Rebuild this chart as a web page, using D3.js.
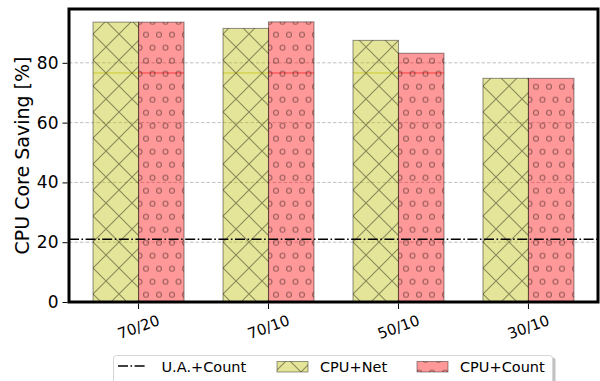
<!DOCTYPE html>
<html>
<head>
<meta charset="utf-8">
<script src="https://cdn.jsdelivr.net/npm/d3@7"></script>
<style>
  body { margin: 0; background: #fff; }
  svg { display: block; font-family: "DejaVu Sans", sans-serif; }
</style>
</head>
<body>
<div id="chart"></div>
<script>
// Data
const categories = ["70/20", "70/10", "50/10", "30/10"];
const cpuNet = [93.6, 91.5, 87.5, 74.8];
const cpuCount = [93.6, 93.7, 83.2, 74.8];
const innerMark = [76.6, 76.6, 76.6, 76.6]; // faint line visible inside the bars
const uaCount = 21;
const yTicks = [0, 20, 40, 60, 80];
const legendLabels = ["U.A.+Count", "CPU+Net", "CPU+Count"];

// Dimensions
const W = 600, H = 381;
const plot = { left: 69, right: 598, top: 9, bottom: 302 };

const svg = d3.select("#chart").append("svg")
  .attr("width", W)
  .attr("height", H);

// hatch patterns
const defs = svg.append("defs");
const hatchColor = "rgba(0,0,0,0.4)";

const d = 26;
const px = defs.append("pattern")
  .attr("id", "hatchX")
  .attr("patternUnits", "userSpaceOnUse")
  .attr("patternTransform", "translate(2,21)")
  .attr("width", d).attr("height", d);
px.append("path")
  .attr("d", `M0,0L${d},${d}M0,${d}L${d},0M${-d/2},${d/2}L${d/2},${3*d/2}M${d/2},${-d/2}L${3*d/2},${d/2}M${-d/2},${d/2}L${d/2},${-d/2}M${d/2},${3*d/2}L${3*d/2},${d/2}`)
  .attr("stroke", hatchColor)
  .attr("stroke-width", 1.1)
  .attr("fill", "none");

const s = 13;
const po = defs.append("pattern")
  .attr("id", "hatchO")
  .attr("patternUnits", "userSpaceOnUse")
  .attr("patternTransform", "translate(3,8.7)")
  .attr("width", s).attr("height", 2 * s);
[[0, 0], [s, 0], [0, 2 * s], [s, 2 * s], [s / 2, s]].forEach(function (c) {
  po.append("circle")
    .attr("cx", c[0]).attr("cy", c[1]).attr("r", 2.5)
    .attr("fill", "none")
    .attr("stroke", hatchColor)
    .attr("stroke-width", 1.1);
});

// scales
const x = d3.scaleLinear().domain([-0.535, 3.535]).range([plot.left, plot.right]);
const y = d3.scaleLinear().domain([0, 98]).range([plot.bottom, plot.top]);
const barW = 0.35;

// grid
svg.append("g")
  .selectAll("line")
  .data(yTicks.filter(v => v > 0))
  .enter()
  .append("line")
  .attr("x1", plot.left).attr("x2", plot.right)
  .attr("y1", v => y(v)).attr("y2", v => y(v))
  .attr("stroke", "#b0b0b0")
  .attr("stroke-width", 0.8)
  .attr("stroke-dasharray", "3.5,2");

// bars
const series = [
  { values: cpuNet, offset: -barW, fill: "rgba(191,191,0,0.4)", line: "rgba(191,191,0,0.7)", hatch: "url(#hatchX)" },
  { values: cpuCount, offset: 0, fill: "rgba(255,0,0,0.4)", line: "rgba(255,0,0,0.6)", hatch: "url(#hatchO)" }
];

series.forEach(function (ser) {
  const g = svg.append("g");
  const rows = ser.values.map((v, i) => ({ v: v, i: i }));
  g.selectAll("rect.fill")
    .data(rows).enter().append("rect")
    .attr("class", "fill")
    .attr("x", r => x(r.i + ser.offset))
    .attr("width", x(barW) - x(0))
    .attr("y", r => y(r.v))
    .attr("height", r => y(0) - y(r.v))
    .attr("fill", ser.fill);
  // faint inner line
  g.selectAll("line.inner")
    .data(rows.filter(r => r.v > innerMark[r.i])).enter().append("line")
    .attr("class", "inner")
    .attr("x1", r => x(r.i + ser.offset))
    .attr("x2", r => x(r.i + ser.offset + barW))
    .attr("y1", r => y(innerMark[r.i]))
    .attr("y2", r => y(innerMark[r.i]))
    .attr("stroke", ser.line)
    .attr("stroke-width", 1);
  g.selectAll("rect.hatch")
    .data(rows).enter().append("rect")
    .attr("class", "hatch")
    .attr("x", r => x(r.i + ser.offset))
    .attr("width", x(barW) - x(0))
    .attr("y", r => y(r.v))
    .attr("height", r => y(0) - y(r.v))
    .attr("fill", ser.hatch)
    .attr("stroke", "rgba(0,0,0,0.4)")
    .attr("stroke-width", 1.1);
});

// U.A.+Count reference line
svg.append("line")
  .attr("x1", plot.left).attr("x2", plot.right)
  .attr("y1", y(uaCount)).attr("y2", y(uaCount))
  .attr("stroke", "#000")
  .attr("stroke-width", 1.6)
  .attr("stroke-dasharray", "10,2.5,1.6,2.5");

// frame
svg.append("rect")
  .attr("x", plot.left).attr("y", plot.top)
  .attr("width", plot.right - plot.left)
  .attr("height", plot.bottom - plot.top)
  .attr("fill", "none")
  .attr("stroke", "#000")
  .attr("stroke-width", 3);

// Y-akse
const yAxis = svg.append("g")
  .attr("transform", "translate(" + (plot.left - 1.5) + ",0)")
  .call(d3.axisLeft(y).tickValues(yTicks).tickSize(5).tickPadding(4));
yAxis.select(".domain").remove();
yAxis.selectAll("line").attr("stroke", "#000").attr("stroke-width", 1);
yAxis.selectAll("text")
  .attr("font-size", "17px")
  .attr("font-family", "DejaVu Sans")
  .attr("fill", "#000");

svg.append("text")
  .attr("transform", "translate(22," + ((plot.top + plot.bottom) / 2) + ") rotate(-90)")
  .attr("text-anchor", "middle")
  .attr("dy", "0.35em")
  .attr("font-size", "19px")
  .text("CPU Core Saving [%]");

// X-akse
const xg = svg.append("g");
xg.selectAll("line")
  .data(categories).enter().append("line")
  .attr("x1", (c, i) => x(i)).attr("x2", (c, i) => x(i))
  .attr("y1", plot.bottom + 1.5).attr("y2", plot.bottom + 7)
  .attr("stroke", "#000");
xg.selectAll("text")
  .data(categories).enter().append("text")
  .attr("transform", (c, i) => "translate(" + x(i) + ",327) rotate(-20)")
  .attr("text-anchor", "middle")
  .attr("dy", "0.35em")
  .attr("font-size", "15px")
  .text(c => c);

// legend
const lg = svg.append("g");
lg.append("rect")
  .attr("x", 115.5).attr("y", 357.5)
  .attr("width", 440).attr("height", 40)
  .attr("rx", 3)
  .attr("fill", "#999")
  .attr("opacity", 0.6);
lg.append("rect")
  .attr("x", 113.5).attr("y", 355.5)
  .attr("width", 439).attr("height", 40)
  .attr("rx", 3)
  .attr("fill", "#fff")
  .attr("stroke", "#d6d6d6");

lg.append("line")
  .attr("x1", 118).attr("x2", 146)
  .attr("y1", 366).attr("y2", 366)
  .attr("stroke", "#000")
  .attr("stroke-width", 1.6)
  .attr("stroke-dasharray", "10,2.5,1.6,2.5");

const legendPatches = [
  { x: 277, fill: series[0].fill, hatch: series[0].hatch },
  { x: 417, fill: series[1].fill, hatch: series[1].hatch }
];
legendPatches.forEach(function (p) {
  lg.append("rect")
    .attr("x", p.x).attr("y", 361.5).attr("width", 31).attr("height", 10.5)
    .attr("fill", p.fill);
  lg.append("rect")
    .attr("x", p.x).attr("y", 361.5).attr("width", 31).attr("height", 10.5)
    .attr("fill", p.hatch)
    .attr("stroke", "rgba(0,0,0,0.4)");
});

const legendTextX = [161.5, 320, 460];
lg.selectAll("text")
  .data(legendLabels).enter().append("text")
  .attr("x", (t, i) => legendTextX[i])
  .attr("y", 371.5)
  .attr("font-size", "14.5px")
  .text(t => t);
</script>
</body>
</html>
